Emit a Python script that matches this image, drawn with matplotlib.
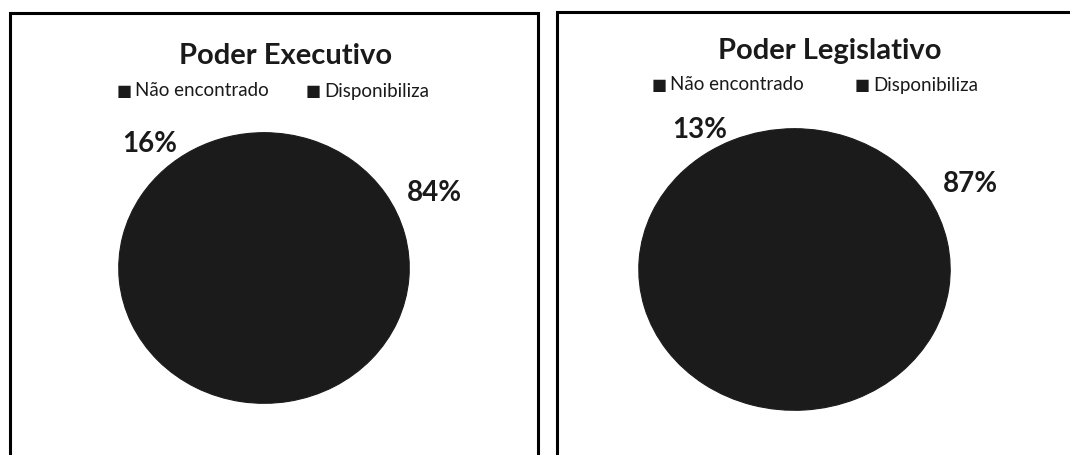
import matplotlib
matplotlib.use('Agg')
import matplotlib.pyplot as plt
from matplotlib.patches import Rectangle

plt.rcParams['font.family'] = ['Lato', 'DejaVu Sans']

# dados
categorias = ['Não encontrado', 'Disponibiliza']
executivo = [16, 84]
legislativo = [13, 87]
titulos = ['Poder Executivo', 'Poder Legislativo']
cores = ['#1b1b1b', '#1b1b1b']
tinta = '#1a1a1a'

W, H = 1070, 455
fig = plt.figure(figsize=(W / 100, H / 100), dpi=100)
fig.patch.set_facecolor('white')

def fx(px):
    return px / W

def fy(py):
    return 1 - py / H

# molduras (cortadas na parte de baixo)
fig.add_artist(Rectangle((fx(10), fy(470)), fx(528), (470 - 13) / H,
                         transform=fig.transFigure, fill=False, ec='black', lw=2.2))
fig.add_artist(Rectangle((fx(557), fy(470)), fx(530), (470 - 12) / H,
                         transform=fig.transFigure, fill=False, ec='black', lw=2.2))

# (caixa da pizza em px: x0, x1, y0, y1), centro do título, legenda, rótulos
paineis = [
    dict(vals=executivo, box=(118, 410, 132, 404), tx=286, ty=56, ly=91,
         leg=(117, 306), lab=[(150, 144), (434, 193)]),
    dict(vals=legislativo, box=(638, 951, 128, 411), tx=830, ty=51, ly=85,
         leg=(652, 855), lab=[(700, 130), (970, 184)]),
]

for titulo, p in zip(titulos, paineis):
    x0, x1, y0, y1 = p['box']
    ax = fig.add_axes([fx(x0), fy(y1), fx(x1 - x0), (y1 - y0) / H])
    ax.pie(p['vals'], colors=cores, startangle=90, counterclock=True,
           wedgeprops=dict(edgecolor='#1b1b1b', linewidth=0.8))
    ax.set_aspect('auto')
    ax.set_xlim(-1.005, 1.005)
    ax.set_ylim(-1.005, 1.005)
    ax.axis('off')

    fig.text(fx(p['tx']), fy(p['ty']), titulo, ha='center', va='center',
             fontsize=21, fontweight='bold', color=tinta)

    for xs, cat in zip(p['leg'], categorias):
        fig.text(fx(xs), fy(p['ly'] + 1), '\u25a0', ha='left', va='center',
                 fontsize=11.5, color=tinta, family='DejaVu Sans')
        fig.text(fx(xs + 18), fy(p['ly']), cat, ha='left', va='center',
                 fontsize=13.5, color=tinta)

    for (lx, ly), v in zip(p['lab'], p['vals']):
        fig.text(fx(lx), fy(ly), f'{v}%', ha='center', va='center',
                 fontsize=20, fontweight='bold', color=tinta)

fig.savefig('out.png', dpi=100, facecolor='white')
